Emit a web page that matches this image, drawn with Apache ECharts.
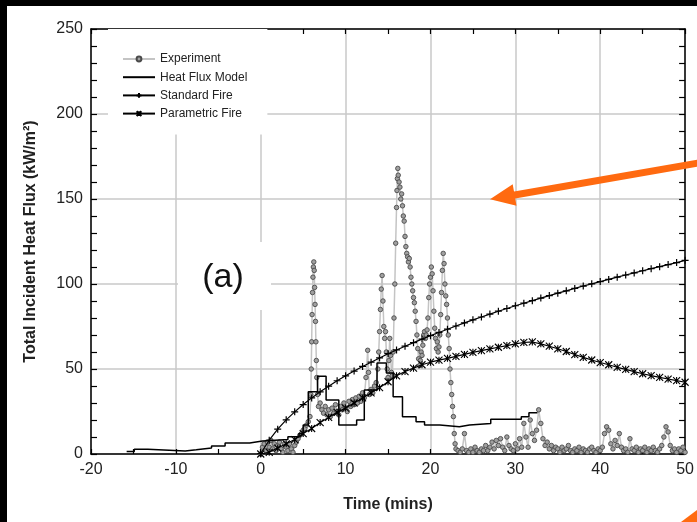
<!DOCTYPE html>
<html>
<head>
<meta charset="utf-8">
<script src="https://cdn.jsdelivr.net/npm/echarts/dist/echarts.min.js"></script>
<style>
html,body{margin:0;padding:0;background:#000;width:697px;height:522px;overflow:hidden;}
#c{position:absolute;left:7px;top:6px;width:690px;height:516px;}
</style>
</head>
<body>
<div id="c"></div>
<script>
// ---- axis ticks ----
const xTicks = [-20, -10, 0, 10, 20, 30, 40, 50];
const yTicks = [0, 50, 100, 150, 200, 250];

// ---- Standard Fire (one marker per minute, t = 0..50) ----
const standardFire = [0.3,8.1,14.6,20.1,24.8,29.1,33.0,36.6,39.9,43.1,46.0,48.8,51.5,54.0,56.5,59.0,61.2,63.4,65.5,67.6,69.6,71.5,73.4,75.3,77.1,78.9,80.6,82.3,84.0,85.6,87.2,88.7,90.2,91.7,93.2,94.6,96.0,97.4,98.8,100.1,101.4,102.7,104.0,105.3,106.5,107.8,109.0,110.2,111.4,112.6,113.9];

// ---- Parametric Fire (one marker per minute, t = 0..50) ----
const parametricFire = [0,1,3.5,6,8.5,12,15,18.5,21.5,24.5,27,30,33,36,39,42.5,46,48.5,50.5,52.5,54,55.2,56.3,57.4,58.6,59.8,60.8,61.8,62.8,63.8,64.8,65.6,65.9,64.8,63.4,61.9,60.3,58.5,56.8,55.3,53.8,52.5,51.0,49.8,48.5,47.2,46.1,45.1,44.1,43.2,42.2];

// ---- Heat Flux Model (step levels: [time, flux]) ----
const heatFluxModel = [[-15.8,1.5],[-14.9,2.8],[-13.3,1.8],[-8.9,2.5],[-7.6,3.5],[-5.8,4.7],[-4.2,6.5],[-1.3,7.6],[0.2,8.6],[3.2,10.2],[4.5,12],[5.0,17],[5.6,36.6],[6.7,45.8],[7.7,31.7],[9.2,17],[11.3,20],[12.2,37.6],[13.7,53.6],[14.8,47.7],[15.6,33.7],[16.7,21.9],[18.3,19],[19.3,17],[21.1,16],[23.4,17],[24.6,18],[27.1,20.5],[30.7,21.9],[31.6,24.2],[32.6,24.2]];

// ---- Experiment ([time, flux]) ----
const experiment = [
[0,0],[0.2,4],[0.4,6],[0.6,2],[0.8,7],[1,4],[1.2,8],[1.4,3],[1.6,6],[1.8,2],[2,5],[2.2,7],[2.4,3],[2.6,1],[2.8,6],[3,4],[3.2,2],[3.4,6],[3.6,3],[3.8,1],[4,5],
[4.2,7],[4.4,9],[4.6,11],[4.8,12],[5,14],[5.2,15],[5.4,17],[5.6,19],[5.8,22],
[5.9,35],[5.95,50],[6,66],[6.05,82],[6.1,95],[6.15,104],[6.2,110],[6.25,113],[6.3,108],[6.35,98],[6.4,88],[6.45,78],[6.5,66],[6.55,55],[6.6,45],[6.7,35],[6.8,28],
[7,30],[7.2,26],[7.4,24],[7.6,28],[7.8,23],[8,26],[8.2,22],[8.4,27],[8.6,24],[8.8,29],[9,25],[9.2,23],[9.4,28],[9.6,26],[9.8,30],[10,27],[10.2,25],[10.4,31],[10.6,28],[10.8,32],[11,29],[11.2,33],[11.4,30],[11.6,34],[11.8,31],[12,36],[12.2,33],[12.4,45],[12.6,61],[12.7,48],[12.8,35],[13,38],[13.2,36],[13.4,40],
[13.6,42],[13.8,50],[13.9,60],[14,72],[14.1,85],[14.2,97],[14.3,105],[14.4,90],[14.5,75],[14.6,68],[14.7,72],[14.8,60],[14.9,50],[15,45],[15.1,55],[15.2,68],[15.3,58],[15.4,48],[15.5,46],
[15.6,60],[15.7,80],[15.8,100],[15.9,124],[16,145],[16.05,155],[16.1,162],[16.15,168],[16.2,164],[16.3,160],[16.4,157],[16.5,150],[16.6,153],[16.7,146],[16.8,140],[16.9,137],[17,128],[17.1,122],[17.2,118],[17.3,116],[17.4,113],[17.5,115],[17.6,110],[17.7,104],[17.8,100],[17.9,96],[18,92],[18.1,89],[18.2,84],[18.3,78],[18.4,70],[18.5,62],[18.6,56],[18.7,52],[18.8,55],[18.9,60],[19,58],[19.1,64],[19.2,70],[19.3,72],[19.4,68],[19.5,70],[19.6,73],[19.7,80],[19.8,92],[19.9,100],[20,104],[20.1,110],[20.2,106],[20.3,96],[20.4,84],[20.5,74],[20.6,68],[20.7,62],[20.8,66],[20.9,60],[21,63],[21.1,70],[21.2,82],[21.3,95],[21.4,108],[21.5,118],[21.6,112],[21.7,100],[21.8,93],[21.9,88],[22,80],[22.1,70],[22.2,62],[22.3,50],[22.4,42],[22.5,35],[22.6,28],[22.7,22],[22.8,12],[22.9,6],[23,3],
[23.25,2],[23.5,1],[23.75,3],[24,12],[24.25,2],[24.5,1],[24.75,3],[25,1],[25.25,4],[25.5,2],[25.75,1],[26,3],[26.25,2],[26.5,5],[26.75,2],[27,4],[27.25,7],[27.5,3],[27.75,8],[28,5],[28.25,9],[28.5,4],[28.75,2],[29,10],[29.25,5],[29.5,3],[29.75,2],[30,6],[30.25,3],[30.5,9],[30.75,4],[31,18],[31.25,10],[31.5,4],[31.75,20],[32,12],[32.25,8],[32.5,14],[32.75,26],[33,18],[33.25,9],[33.5,5],[33.75,7],[34,3],[34.25,5],[34.5,2],[34.75,4],[35,3],[35.25,1],[35.5,4],[35.75,2],[36,3],[36.25,5],[36.5,2],[36.75,1],[37,3],[37.25,2],[37.5,4],[37.75,1],[38,3],[38.25,2],[38.5,1],[38.75,3],[39,4],[39.25,2],[39.5,1],[39.75,3],[40,2],[40.25,4],[40.5,12],[40.75,16],[41,14],[41.25,6],[41.5,3],[41.75,8],[42,5],[42.25,12],[42.5,4],[42.75,2],[43,3],[43.25,1],[43.5,9],[43.75,3],[44,2],[44.25,4],[44.5,1],[44.75,3],[45,2],[45.25,4],[45.5,1],[45.75,3],[46,2],[46.25,4],[46.5,2],[46.75,1],[47,3],[47.25,5],[47.5,10],[47.75,16],[48,13],[48.25,5],[48.5,2],[48.75,3],[49,1],[49.25,3],[49.5,2],[49.75,4],[50,1]
];

const seriesNames = ['Experiment', 'Heat Flux Model', 'Standard Fire', 'Parametric Fire'];
const xTitle = 'Time (mins)';
const yTitle = 'Total Incident Heat Flux (kW/m²)';
const panelLabel = '(a)';

const FONT = '"Liberation Sans", Arial, sans-serif';
const OX = 7, OY = 6; // div offset in page

const chart = echarts.init(document.getElementById('c'), null, {renderer: 'canvas'});

const minutePairs = arr => arr.map((v, i) => [i, v]);

const axisCommon = {
  type: 'value', min: xTicks[0], max: xTicks[xTicks.length - 1], interval: xTicks[1] - xTicks[0]
};

const option = {
  backgroundColor: '#fff',
  animation: false,
  grid: {left: 91 - OX, top: 29 - OY, right: 697 - 686, bottom: 522 - 454, containLabel: false},
  legend: {
    orient: 'vertical', left: 101, top: 23,
    padding: [23, 20, 14, 14],
    backgroundColor: '#fff',
    itemWidth: 32, itemHeight: 6, itemGap: 4.2,
    selectedMode: false,
    textStyle: {fontFamily: FONT, fontSize: 12, color: '#222', lineHeight: 14},
    data: [
      {name: seriesNames[0]},
      {name: seriesNames[1], itemStyle: {opacity: 0}},
      {name: seriesNames[2]},
      {name: seriesNames[3]}
    ]
  },
  xAxis: [
    Object.assign({}, axisCommon, {
      position: 'bottom',
      name: xTitle, nameLocation: 'middle', nameGap: 43,
      nameTextStyle: {fontFamily: FONT, fontSize: 16, fontWeight: 'bold', color: '#222'},
      axisLine: {show: true, onZero: false, lineStyle: {color: '#000', width: 1.5}},
      axisTick: {show: true, inside: true, length: 5, lineStyle: {color: '#000', width: 1.2}},
      minorTick: {show: true, splitNumber: 2, length: 5, lineStyle: {color: '#000', width: 1.2}},
      axisLabel: {margin: 8, fontFamily: FONT, fontSize: 16, color: '#222'},
      splitLine: {show: true, lineStyle: {color: '#c9c9c9', width: 1.5}}
    }),
    Object.assign({}, axisCommon, {
      position: 'top',
      axisLine: {show: true, onZero: false, lineStyle: {color: '#000', width: 1.5}},
      axisTick: {show: true, inside: true, length: 5, lineStyle: {color: '#000', width: 1.2}},
      minorTick: {show: true, splitNumber: 2, length: 5, lineStyle: {color: '#000', width: 1.2}},
      axisLabel: {show: false},
      splitLine: {show: false}
    })
  ],
  yAxis: [
    {
      type: 'value', min: yTicks[0], max: yTicks[yTicks.length - 1], interval: yTicks[1] - yTicks[0],
      position: 'left',
      name: yTitle, nameLocation: 'middle', nameGap: 52,
      nameTextStyle: {fontFamily: FONT, fontSize: 16, fontWeight: 'bold', color: '#222'},
      axisLine: {show: true, onZero: false, lineStyle: {color: '#000', width: 1.5}},
      axisTick: {show: true, inside: true, length: 6, lineStyle: {color: '#000', width: 1.2}},
      minorTick: {show: true, splitNumber: 5, length: 6, lineStyle: {color: '#000', width: 1.2}},
      axisLabel: {margin: 8, fontFamily: FONT, fontSize: 16, color: '#222'},
      splitLine: {show: true, lineStyle: {color: '#c9c9c9', width: 1.5}}
    },
    {
      type: 'value', min: yTicks[0], max: yTicks[yTicks.length - 1], interval: yTicks[1] - yTicks[0],
      position: 'right',
      axisLine: {show: true, onZero: false, lineStyle: {color: '#000', width: 1.5}},
      axisTick: {show: true, inside: true, length: 6, lineStyle: {color: '#000', width: 1.2}},
      minorTick: {show: true, splitNumber: 5, length: 6, lineStyle: {color: '#000', width: 1.2}},
      axisLabel: {show: false},
      splitLine: {show: false}
    }
  ],
  series: [
    {
      name: seriesNames[0], type: 'line', data: experiment, z: 2,
      symbol: 'circle', symbolSize: 4.5, showAllSymbol: true,
      lineStyle: {color: '#c4c4c4', width: 1.5},
      itemStyle: {color: '#a0a0a0', borderColor: '#4a4a4a', borderWidth: 0.9}
    },
    {
      name: seriesNames[1], type: 'line', data: heatFluxModel, step: 'end', z: 3,
      symbol: 'none', showSymbol: false,
      lineStyle: {color: '#000', width: 1.5},
      itemStyle: {color: '#000'}
    },
    {
      name: seriesNames[2], type: 'line', data: minutePairs(standardFire), z: 4,
      symbol: 'path://M0,5L10,5M5,0L5,10', symbolSize: 7, showAllSymbol: true,
      lineStyle: {color: '#000', width: 1.2},
      itemStyle: {color: '#000', borderColor: '#000', borderWidth: 1.2}
    },
    {
      name: seriesNames[3], type: 'line', data: minutePairs(parametricFire), z: 4,
      symbol: 'path://M0,0L10,10M10,0L0,10M5,0L5,10', symbolSize: 7, showAllSymbol: true,
      lineStyle: {color: '#000', width: 1.2},
      itemStyle: {color: '#000', borderColor: '#000', borderWidth: 1.1}
    }
  ],
  graphic: [
    {type: 'rect', shape: {x: 178 - OX, y: 242 - OY, width: 93, height: 68}, style: {fill: '#fff'}, z: 10},
    {type: 'text', x: 223 - OX, y: 278 - OY, style: {text: panelLabel, font: '34px ' + FONT, fill: '#111', textAlign: 'center', textVerticalAlign: 'middle'}, z: 11},
    {type: 'polygon', shape: {points: [[490,199.3],[512.7,184.2],[514.0,191.6],[699.4,159.4],[700.6,166.2],[515.2,198.4],[516.5,205.8]].map(p => [p[0] - OX, p[1] - OY])}, style: {fill: '#ff6a10'}, z: 20},
    {type: 'polygon', shape: {points: [[681,522],[697,510],[697,522]].map(p => [p[0] - OX, p[1] - OY])}, style: {fill: '#ff6a10'}, z: 20}
  ]
};

chart.setOption(option);
</script>
</body>
</html>
